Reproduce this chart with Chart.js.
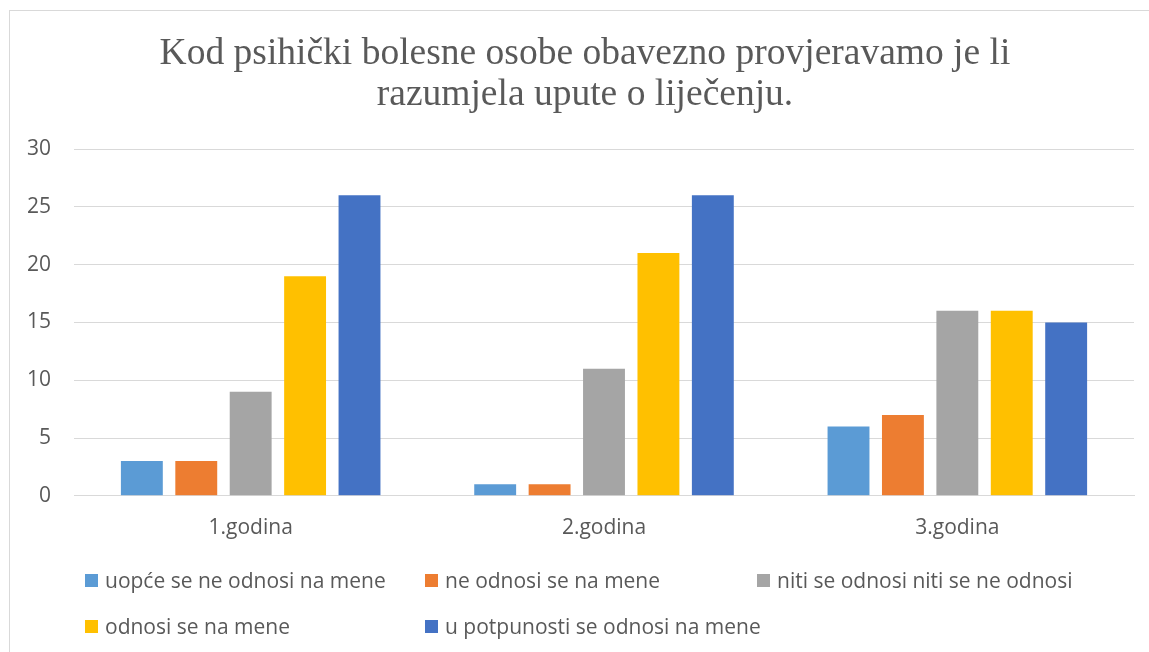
<!DOCTYPE html>
<html>
<head>
<meta charset="utf-8">
<script src="https://cdn.jsdelivr.net/npm/chart.js@4.4.1/dist/chart.umd.min.js"></script>
<style>
  html, body { margin: 0; padding: 0; background: #fff; }
  #wrap { position: relative; width: 1149px; height: 652px; overflow: hidden; }
  #frame { position: absolute; left: 9px; top: 10px; width: 1150px; height: 700px; border: 1px solid #d9d9d9; box-sizing: border-box; }
  canvas { position: absolute; left: 0; top: 0; }
  #title { position: absolute; left: 0; top: 31px; width: 1170px; text-align: center; font-family: "Liberation Serif", "Times New Roman", serif; font-size: 37.5px; line-height: 41px; color: #595959; }
  .legend { position: absolute; left: 0; top: 0; font-family: "Open Sans", sans-serif; font-size: 21px; color: #595959; }
  .legend .item { position: absolute; display: flex; align-items: center; white-space: nowrap; }
  .legend .box { width: 13px; height: 13px; margin-right: 7px; }
</style>
</head>
<body>
<div id="wrap">
  <div id="frame"></div>
  <canvas id="chart" width="1149" height="652"></canvas>
  <div id="title"></div>
  <div class="legend" id="legend"></div>
</div>
<script>
// Kod psihički bolesne osobe ... - grouped bar chart
const titleLines = ['Kod psihički bolesne osobe obavezno provjeravamo je li', 'razumjela upute o liječenju.'];
const categories = ['1.godina', '2.godina', '3.godina'];
const seriesNames = [
  'uopće se ne odnosi na mene',
  'ne odnosi se na mene',
  'niti se odnosi niti se ne odnosi',
  'odnosi se na mene',
  'u potpunosti se odnosi na mene'
];
const seriesColors = ['#5B9BD5', '#ED7D31', '#A5A5A5', '#FFC000', '#4472C4'];
const uopceSeNe = [3, 1, 6];
const neOdnosi = [3, 1, 7];
const niti = [9, 11, 16];
const odnosi = [19, 21, 16];
const uPotpunosti = [26, 26, 15];
const seriesValues = [uopceSeNe, neOdnosi, niti, odnosi, uPotpunosti];

// legend slots (Excel-style grid)
const legendPos = [[85, 580], [425, 580], [757, 580], [85, 626], [425, 626]];

const textColor = '#595959';
const gridColor = '#d9d9d9';

new Chart(document.getElementById('chart'), {
  type: 'bar',
  data: {
    labels: categories,
    datasets: seriesNames.map((name, i) => ({
      label: name,
      data: seriesValues[i],
      backgroundColor: seriesColors[i],
      borderWidth: 0,
      categoryPercentage: 0.77,
      barPercentage: 0.77
    }))
  },
  options: {
    responsive: false,
    animation: false,
    layout: { padding: { left: 4, right: 15, top: 149, bottom: 99 } },
    plugins: {
      legend: { display: false },
      tooltip: { enabled: false }
    },
    scales: {
      x: {
        grid: { display: false },
        border: { display: true, color: gridColor, width: 1 },
        ticks: { color: textColor, font: { family: '"Open Sans", sans-serif', size: 21 }, padding: 12 }
      },
      y: {
        min: 0, max: 30,
        ticks: { stepSize: 5, color: textColor, font: { family: '"Open Sans", sans-serif', size: 21 }, padding: 23 },
        grid: { color: gridColor, lineWidth: 1, drawTicks: false },
        border: { display: false }
      }
    }
  }
});

document.getElementById('title').innerHTML = titleLines.join('<br>');

const legendEl = document.getElementById('legend');
legendEl.innerHTML = seriesNames.map((name, i) => `
  <div class="item" style="left:${legendPos[i][0]}px;top:${legendPos[i][1] - 13}px;height:26px">
    <span class="box" style="background:${seriesColors[i]}"></span>${name}
  </div>`).join('');
</script>
</body>
</html>
